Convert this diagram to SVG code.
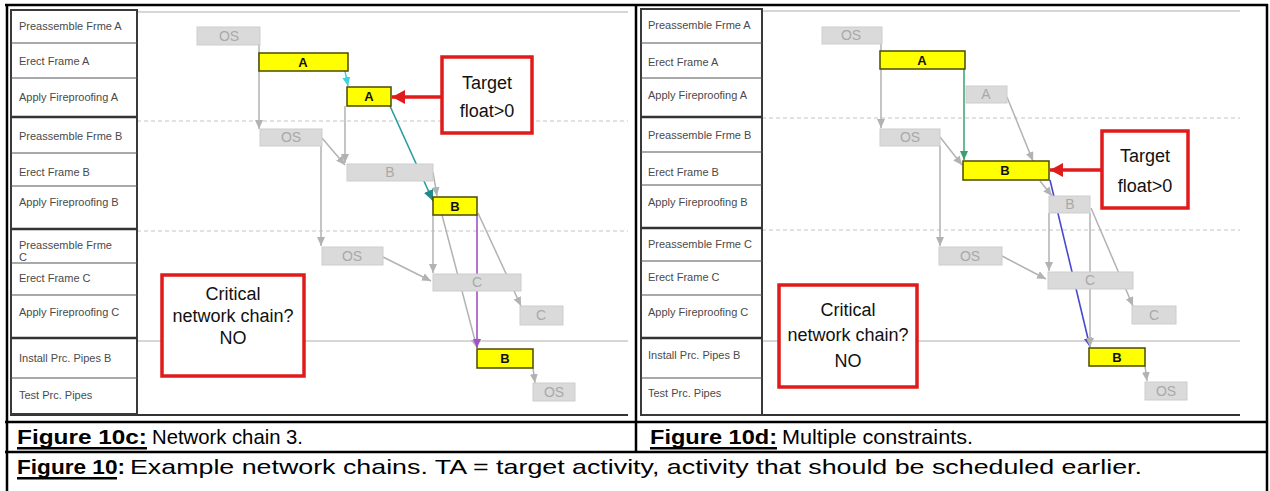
<svg xmlns="http://www.w3.org/2000/svg" width="1270" height="491" viewBox="0 0 1270 491">
<defs>
<style>
.lbl{font-family:"Liberation Sans",Arial,sans-serif;font-size:11px;fill:#4a4a4a}
.col{fill:#fff;stroke:#3a3a3a;stroke-width:2}
.rowl{stroke:#555;stroke-width:1.2}
.grp{stroke:#333;stroke-width:2.4}
.dash{stroke:#c4c4c4;stroke-width:1;stroke-dasharray:4 3}
.hl{stroke:#c8c8c8;stroke-width:1.3}
.yb{fill:#ffff00;stroke:#4a4a00;stroke-width:1.5}
.gb{fill:#dadada;stroke:#cdcdcd;stroke-width:1}
.yt{font-family:"Liberation Sans",Arial,sans-serif;font-size:13px;font-weight:bold;fill:#111;text-anchor:middle}
.gt{font-family:"Liberation Sans",Arial,sans-serif;font-size:14px;fill:#a9a9a9;text-anchor:middle}
.c{fill:none;stroke:#b2b2b2;stroke-width:1.5;marker-end:url(#mg)}
.box{fill:#fff;stroke:#e01b1b;stroke-width:3.5}
.bt{font-family:"Liberation Sans",Arial,sans-serif;font-size:18px;fill:#111;text-anchor:middle}
.cap{font-family:"Liberation Sans",Arial,sans-serif;font-size:21px;fill:#000}
.capb{font-weight:bold}
.tb{stroke:#000;stroke-width:2.5}
</style>
<marker id="mg" markerUnits="userSpaceOnUse" markerWidth="10" markerHeight="8" refX="9" refY="4" orient="auto"><path d="M0,0 L9,4 L0,8 z" fill="#b2b2b2"/></marker>
<marker id="mcy" markerUnits="userSpaceOnUse" markerWidth="10" markerHeight="8" refX="9" refY="4" orient="auto"><path d="M0,0 L9,4 L0,8 z" fill="#40d0e0"/></marker>
<marker id="mte" markerUnits="userSpaceOnUse" markerWidth="12" markerHeight="10" refX="11" refY="5" orient="auto"><path d="M0,0 L11,5 L0,10 z" fill="#1f8a8a"/></marker>
<marker id="mpu" markerUnits="userSpaceOnUse" markerWidth="10" markerHeight="8" refX="9" refY="4" orient="auto"><path d="M0,0 L9,4 L0,8 z" fill="#a050c8"/></marker>
<marker id="mgr" markerUnits="userSpaceOnUse" markerWidth="10" markerHeight="8" refX="9" refY="4" orient="auto"><path d="M0,0 L9,4 L0,8 z" fill="#3aa070"/></marker>
<marker id="mbl" markerUnits="userSpaceOnUse" markerWidth="10" markerHeight="8" refX="9" refY="4" orient="auto"><path d="M0,0 L9,4 L0,8 z" fill="#4848d0"/></marker>
<marker id="mr" markerUnits="userSpaceOnUse" markerWidth="14" markerHeight="14" refX="13" refY="7" orient="auto"><path d="M0,0 L13,7 L0,14 z" fill="#e01b1b"/></marker>
</defs>
<rect width="1270" height="491" fill="#fff"/>

<!-- LEFT PANEL background lines -->
<g id="left-grid">
<line class="hl" x1="137" y1="12" x2="628" y2="12"/>
<line class="dash" x1="137" y1="121" x2="628" y2="121"/>
<line class="dash" x1="137" y1="231" x2="628" y2="231"/>
<line class="hl" x1="137" y1="341" x2="628" y2="341"/>
<line x1="10" y1="415" x2="628" y2="415" stroke="#333" stroke-width="2"/>
</g>
<g id="left-labels">
<rect class="col" x="11" y="10" width="126" height="404"/>
<line class="rowl" x1="11" y1="43" x2="137" y2="43"/>
<line class="rowl" x1="11" y1="78" x2="137" y2="78"/>
<line class="grp" x1="11" y1="117" x2="137" y2="117"/>
<line class="rowl" x1="11" y1="153" x2="137" y2="153"/>
<line class="rowl" x1="11" y1="186" x2="137" y2="186"/>
<line class="grp" x1="11" y1="229" x2="137" y2="229"/>
<line class="rowl" x1="11" y1="263" x2="137" y2="263"/>
<line class="rowl" x1="11" y1="295" x2="137" y2="295"/>
<line class="grp" x1="11" y1="338" x2="137" y2="338"/>
<line class="rowl" x1="11" y1="378" x2="137" y2="378"/>
<text class="lbl" x="19" y="30">Preassemble Frme A</text>
<text class="lbl" x="19" y="65">Erect Frame A</text>
<text class="lbl" x="19" y="101">Apply Fireproofing A</text>
<text class="lbl" x="19" y="140">Preassemble Frme B</text>
<text class="lbl" x="19" y="176">Erect Frame B</text>
<text class="lbl" x="19" y="206">Apply Fireproofing B</text>
<text class="lbl" x="19" y="249">Preassemble Frme</text>
<text class="lbl" x="19" y="261" font-size="8">C</text>
<text class="lbl" x="19" y="282">Erect Frame C</text>
<text class="lbl" x="19" y="316">Apply Fireproofing C</text>
<text class="lbl" x="19" y="362">Install Prc. Pipes B</text>
<text class="lbl" x="19" y="399">Test Prc. Pipes</text>
</g>

<!-- RIGHT PANEL background lines -->
<g id="right-grid">
<line class="hl" x1="762" y1="11" x2="1240" y2="11"/>
<line class="dash" x1="762" y1="118" x2="1240" y2="118"/>
<line class="dash" x1="762" y1="230" x2="1240" y2="230"/>
<line class="hl" x1="762" y1="341" x2="1240" y2="341"/>
<line x1="641" y1="415" x2="1240" y2="415" stroke="#333" stroke-width="2"/>
</g>
<g id="right-labels">
<rect class="col" x="641" y="9" width="121" height="406"/>
<line class="rowl" x1="641" y1="43" x2="762" y2="43"/>
<line class="rowl" x1="641" y1="78" x2="762" y2="78"/>
<line class="grp" x1="641" y1="117" x2="762" y2="117"/>
<line class="rowl" x1="641" y1="152" x2="762" y2="152"/>
<line class="rowl" x1="641" y1="185" x2="762" y2="185"/>
<line class="grp" x1="641" y1="228" x2="762" y2="228"/>
<line class="rowl" x1="641" y1="261" x2="762" y2="261"/>
<line class="rowl" x1="641" y1="295" x2="762" y2="295"/>
<line class="grp" x1="641" y1="338" x2="762" y2="338"/>
<line class="rowl" x1="641" y1="378" x2="762" y2="378"/>
<text class="lbl" x="648" y="29" font-size="10.5">Preassemble Frme A</text>
<text class="lbl" x="648" y="66" font-size="10.5">Erect Frame A</text>
<text class="lbl" x="648" y="99" font-size="10.5">Apply Fireproofing A</text>
<text class="lbl" x="648" y="139" font-size="10.5">Preassemble Frme B</text>
<text class="lbl" x="648" y="176" font-size="10.5">Erect Frame B</text>
<text class="lbl" x="648" y="206" font-size="10.5">Apply Fireproofing B</text>
<text class="lbl" x="648" y="248" font-size="10.5">Preassemble Frme C</text>
<text class="lbl" x="648" y="281" font-size="10.5">Erect Frame C</text>
<text class="lbl" x="648" y="316" font-size="10.5">Apply Fireproofing C</text>
<text class="lbl" x="648" y="359" font-size="10.5">Install Prc. Pipes B</text>
<text class="lbl" x="648" y="397" font-size="10.5">Test Prc. Pipes</text>
</g>

<!-- connectors -->
<g id="connectors">
<path class="c" d="M259,40 V129"/>
<path d="M345,71 L348,86" fill="none" stroke="#40d0e0" stroke-width="1.5" marker-end="url(#mcy)"/>
<path class="c" d="M345,106 V163"/>
<path class="c" d="M322,138 L345,165"/>
<path d="M390,106 L433,201" fill="none" stroke="#2a9c9c" stroke-width="1.6" marker-end="url(#mte)"/>
<path class="c" d="M433,172 L437,196"/>
<path class="c" d="M321,146 V246"/>
<path class="c" d="M383,257 L431,281"/>
<path class="c" d="M433,215 V273"/>
<path class="c" d="M442,215 L477,348"/>
<path d="M477,215 V348" fill="none" stroke="#a050c8" stroke-width="1.6" marker-end="url(#mpu)"/>
<path class="c" d="M478,213 L521,306"/>
<path class="c" d="M533,368 L535,383"/>
<path d="M442,97 L392,97" fill="none" stroke="#e01b1b" stroke-width="3.5" marker-end="url(#mr)"/>

<path class="c" d="M881,40 V128"/>
<path d="M964,69 V160" fill="none" stroke="#3aa070" stroke-width="1.5" marker-end="url(#mgr)"/>
<path class="c" d="M1007,97 L1033,161"/>
<path class="c" d="M940,137 L962,165"/>
<path class="c" d="M940,146 V246"/>
<path class="c" d="M1040,181 L1052,196"/>
<path d="M1050,180 L1090,347" fill="none" stroke="#4848d0" stroke-width="1.6" marker-end="url(#mbl)"/>
<path class="c" d="M1049,213 V271"/>
<path class="c" d="M1090,213 V347"/>
<path class="c" d="M1091,208 L1133,306"/>
<path class="c" d="M1002,256 L1046,279"/>
<path class="c" d="M1145,366 L1147,381"/>
<path d="M1102,170 L1050,170" fill="none" stroke="#e01b1b" stroke-width="3.5" marker-end="url(#mr)"/>
</g>

<!-- LEFT bars -->
<g id="l-os1"><rect class="gb" x="197" y="27" width="63" height="18"/><text class="gt" x="229" y="41">OS</text></g>
<g id="l-a1"><rect class="yb" x="259" y="53" width="89" height="18"/><text class="yt" x="303" y="67">A</text></g>
<g id="l-a2"><rect class="yb" x="347" y="87" width="44" height="19"/><text class="yt" x="369" y="101">A</text></g>
<g id="l-os2"><rect class="gb" x="260" y="129" width="62" height="17"/><text class="gt" x="291" y="142">OS</text></g>
<g id="l-b1"><rect class="gb" x="347" y="164" width="86" height="17"/><text class="gt" x="390" y="177">B</text></g>
<g id="l-b2"><rect class="yb" x="433" y="197" width="44" height="18"/><text class="yt" x="455" y="211">B</text></g>
<g id="l-os3"><rect class="gb" x="322" y="247" width="61" height="18"/><text class="gt" x="352" y="261">OS</text></g>
<g id="l-c1"><rect class="gb" x="433" y="274" width="88" height="17"/><text class="gt" x="477" y="287">C</text></g>
<g id="l-c2"><rect class="gb" x="520" y="306" width="43" height="19"/><text class="gt" x="541" y="320">C</text></g>
<g id="l-b3"><rect class="yb" x="477" y="349" width="56" height="19"/><text class="yt" x="505" y="363">B</text></g>
<g id="l-os4"><rect class="gb" x="533" y="383" width="42" height="18"/><text class="gt" x="554" y="397">OS</text></g>

<g id="l-target"><rect class="box" x="442" y="57" width="90" height="76"/><text class="bt" x="487" y="89">Target</text><text class="bt" x="487" y="117">float&gt;0</text></g>
<g id="l-critical"><rect class="box" x="162" y="275" width="142" height="101"/><text class="bt" x="233" y="300">Critical</text><text class="bt" x="233" y="322">network chain?</text><text class="bt" x="233" y="344">NO</text></g>

<!-- RIGHT bars -->
<g id="r-os1"><rect class="gb" x="822" y="27" width="60" height="17"/><text class="gt" x="851" y="40">OS</text></g>
<g id="r-a1"><rect class="yb" x="880" y="51" width="85" height="18"/><text class="yt" x="922" y="65">A</text></g>
<g id="r-a2"><rect class="gb" x="966" y="86" width="41" height="17"/><text class="gt" x="986" y="99">A</text></g>
<g id="r-os2"><rect class="gb" x="880" y="129" width="60" height="17"/><text class="gt" x="910" y="142">OS</text></g>
<g id="r-b1"><rect class="yb" x="963" y="161" width="86" height="19"/><text class="yt" x="1005" y="175">B</text></g>
<g id="r-b2"><rect class="gb" x="1049" y="196" width="41" height="17"/><text class="gt" x="1070" y="209">B</text></g>
<g id="r-os3"><rect class="gb" x="939" y="247" width="63" height="18"/><text class="gt" x="970" y="261">OS</text></g>
<g id="r-c1"><rect class="gb" x="1048" y="272" width="85" height="17"/><text class="gt" x="1090" y="285">C</text></g>
<g id="r-c2"><rect class="gb" x="1132" y="306" width="44" height="18"/><text class="gt" x="1154" y="320">C</text></g>
<g id="r-b3"><rect class="yb" x="1089" y="348" width="56" height="18"/><text class="yt" x="1117" y="362">B</text></g>
<g id="r-os4"><rect class="gb" x="1145" y="382" width="42" height="18"/><text class="gt" x="1166" y="396">OS</text></g>

<g id="r-target"><rect class="box" x="1102" y="131" width="86" height="77"/><text class="bt" x="1145" y="162">Target</text><text class="bt" x="1145" y="192">float&gt;0</text></g>
<g id="r-critical"><rect class="box" x="779" y="285" width="138" height="102"/><text class="bt" x="848" y="316">Critical</text><text class="bt" x="848" y="341">network chain?</text><text class="bt" x="848" y="367">NO</text></g>

<!-- table frame -->
<g id="table">
<line class="tb" x1="5" y1="5" x2="1268" y2="5"/>
<line class="tb" x1="7" y1="4" x2="7" y2="491"/>
<line class="tb" x1="1267" y1="4" x2="1267" y2="491"/>
<line class="tb" x1="636" y1="4" x2="636" y2="452"/>
<line class="tb" x1="5" y1="422" x2="1268" y2="422"/>
<line class="tb" x1="5" y1="452" x2="1268" y2="452"/>
</g>

<!-- captions -->
<g id="captions">
<text class="cap capb" x="17" y="444" textLength="130" lengthAdjust="spacingAndGlyphs">Figure 10c:</text>
<rect x="17" y="447" width="130" height="2.5" fill="#000"/>
<text class="cap" x="152" y="444" textLength="151" lengthAdjust="spacingAndGlyphs">Network chain 3.</text>
<text class="cap capb" x="650" y="444" textLength="127" lengthAdjust="spacingAndGlyphs">Figure 10d:</text>
<rect x="650" y="447" width="127" height="2.5" fill="#000"/>
<text class="cap" x="782" y="444" textLength="191" lengthAdjust="spacingAndGlyphs">Multiple constraints.</text>
<text class="cap capb" x="17" y="474" font-size="22" textLength="108" lengthAdjust="spacingAndGlyphs">Figure 10:</text>
<rect x="17" y="477" width="100" height="2.5" fill="#000"/>
<text class="cap" x="130" y="474" font-size="22" textLength="1012" lengthAdjust="spacingAndGlyphs">Example network chains. TA = target activity, activity that should be scheduled earlier.</text>
</g>
</svg>
